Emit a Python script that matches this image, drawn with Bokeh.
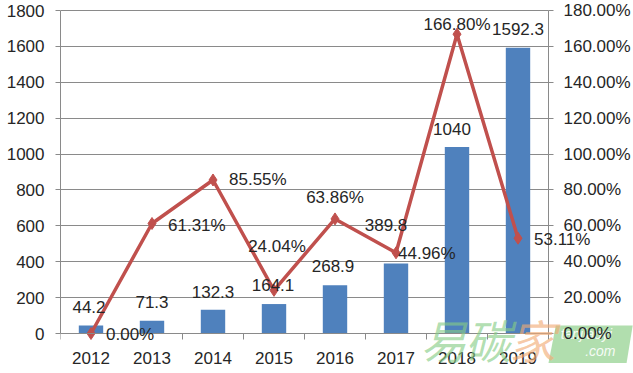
from bokeh.plotting import figure
from bokeh.models import (Range1d, LinearAxis, FixedTicker, NumeralTickFormatter,
                          ColumnDataSource, LabelSet, Label)
from bokeh.core.properties import value
from bokeh.embed import file_html
from bokeh.resources import INLINE
import numpy as np

# ---- data ----
years = ["2012", "2013", "2014", "2015", "2016", "2017", "2018", "2019"]
volume = [44.2, 71.3, 132.3, 164.1, 268.9, 389.8, 1040, 1592.3]
volume_text = ["44.2", "71.3", "132.3", "164.1", "268.9", "389.8", "1040", "1592.3"]
growth_pct = [0.00, 61.31, 85.55, 24.04, 63.86, 44.96, 166.80, 53.11]
left_ticks = [0, 200, 400, 600, 800, 1000, 1200, 1400, 1600, 1800]
right_ticks_pct = [0, 20, 40, 60, 80, 100, 120, 140, 160, 180]

# ---- label placement (pixels, positive = right / up) ----
vol_dx = [-2, 0, 0, -1, -2, -10, -5, 0]
vol_dy = [19, 19, 18, 19, 19, 39, 18, 19]
gr_dx = [15, 16, 16, 3, 0, 2, 0, 16]
gr_dy = [-1, -2, 0, 44, 21, -1, 10, -1]
gr_align = ["left", "left", "left", "center", "center", "left", "center", "left"]

FONT = "Liberation Sans"
FS = "17px"
TXT = "#262626"
GRID = "#8a8a8a"
BAR = "#4F81BD"
RED = "#C0504D"

W, H = 633, 373
LEFT, TOP, PLOT_RIGHT, PLOT_BOTTOM = 60, 10, 548, 333

n = len(years)
xs = (np.arange(n) + 0.5).tolist()
growth = [g / 100.0 for g in growth_pct]
ymax = left_ticks[-1]
rmax = right_ticks_pct[-1] / 100.0

px_x = (PLOT_RIGHT - LEFT) / n
px_y = (PLOT_BOTTOM - TOP) / ymax
x_end = n + (W - PLOT_RIGHT) / px_x
y_start = -(H - PLOT_BOTTOM) / px_y
y_end = ymax + TOP / px_y
r_scale = rmax / ymax

p = figure(width=W, height=H, x_range=Range1d(0, x_end), y_range=Range1d(y_start, y_end),
           output_backend="svg", toolbar_location=None,
           min_border_left=LEFT, min_border_right=0, min_border_top=0, min_border_bottom=0)
p.outline_line_color = None
p.background_fill_color = "white"
p.border_fill_color = "white"

p.extra_y_ranges = {"rate": Range1d(y_start * r_scale, y_end * r_scale)}

# bottom axis, fixed at y = 0
p.xaxis.fixed_location = 0
p.xaxis.bounds = (0, n)
p.xaxis.ticker = FixedTicker(ticks=xs, minor_ticks=list(range(n + 1)))
p.xaxis.major_label_overrides = {x: y for x, y in zip(xs, years)}
p.xaxis.major_tick_out = 0
p.xaxis.major_tick_in = 0
p.xaxis.minor_tick_out = 6
p.xaxis.minor_tick_in = 0
p.xaxis.major_label_standoff = 12

# left axis
p.yaxis.bounds = (0, ymax)
p.yaxis.ticker = FixedTicker(ticks=left_ticks)
p.yaxis.major_tick_out = 5
p.yaxis.major_tick_in = 0
p.yaxis.minor_tick_out = 0
p.yaxis.minor_tick_in = 0
p.yaxis.major_label_standoff = 11

# right axis, fixed at the end of the categories
rax = LinearAxis(y_range_name="rate",
                 ticker=FixedTicker(ticks=[v / 100.0 for v in right_ticks_pct]),
                 formatter=NumeralTickFormatter(format="0.00%"))
rax.fixed_location = n
rax.bounds = (0, rmax)
rax.major_tick_out = 5
rax.major_tick_in = 0
rax.minor_tick_out = 0
rax.minor_tick_in = 0
rax.major_label_standoff = 10
p.add_layout(rax, "right")

for ax in [p.xaxis[0], p.yaxis[0], rax]:
    ax.axis_line_color = GRID
    ax.major_tick_line_color = GRID
    ax.minor_tick_line_color = GRID
    ax.major_label_text_font = FONT
    ax.major_label_text_font_size = FS
    ax.major_label_text_color = TXT

p.xgrid.visible = False
grid = p.ygrid[0]
if "cross_bounds" in grid.properties():
    grid.ticker = FixedTicker(ticks=left_ticks)
    grid.cross_bounds = (0, n)
    grid.grid_line_color = GRID
    grid.grid_line_width = 1
else:
    grid.visible = False
    p.segment(x0=[0] * len(left_ticks), x1=[n] * len(left_ticks), y0=left_ticks,
              y1=left_ticks, line_color=GRID, line_width=1, level="underlay")

src = ColumnDataSource(dict(x=xs, vol=volume, vtxt=volume_text, g=growth,
                            gtxt=["%.2f%%" % v for v in growth_pct],
                            vdx=vol_dx, vdy=vol_dy, gdx=gr_dx, gdy=gr_dy, galign=gr_align))

p.vbar(x="x", top="vol", width=0.4, fill_color=BAR, line_color=None, source=src)
p.line(x="x", y="g", y_range_name="rate", line_color=RED, line_width=3.5, source=src)
p.scatter(x="x", y="g", y_range_name="rate", marker="diamond", size=12,
          fill_color=RED, line_color=RED, source=src)

# watermark (drawn beneath the data labels)
wm_chars = ["易", "碳", "家"]
wm_colors = ["#86cc86", "#86cc86", "#f2ab74"]
wm_x = [5.9, 6.63, 7.36]
for ch, col, wx in zip(wm_chars, wm_colors, wm_x):
    p.add_layout(Label(x=wx, y=-28, text=ch, text_align="left", text_baseline="middle",
                       text_font="Noto Sans CJK SC", text_font_size="46px",
                       text_font_style="italic", text_color=col, text_alpha=0.65))
box_x = [8.12, 9.38, 9.28, 8.0]
box_y = [45, 45, -165, -165]
p.patch(x=box_x, y=box_y, fill_color="#a3d8a0", fill_alpha=0.85, line_color=None,
        level="underlay")
p.add_layout(Label(x=8.62, y=-5, text="tanjiaoyi", text_align="center",
                   text_baseline="middle", text_font=FONT, text_font_size="14px",
                   text_font_style="italic", text_color="white", text_alpha=0.9,
                   level="underlay"))
p.add_layout(Label(x=8.85, y=-95, text=".com", text_align="center",
                   text_baseline="middle", text_font=FONT, text_font_size="14px",
                   text_font_style="italic", text_color="white", text_alpha=0.9,
                   level="underlay"))

p.add_layout(LabelSet(x="x", y="vol", text="vtxt", x_offset="vdx", y_offset="vdy",
                      text_align="center", text_baseline="middle",
                      text_font=value(FONT), text_font_size=FS, text_color=TXT,
                      source=src))
p.add_layout(LabelSet(x="x", y="g", y_range_name="rate", text="gtxt",
                      x_offset="gdx", y_offset="gdy", text_align="galign",
                      text_baseline="middle", text_font=value(FONT),
                      text_font_size=FS, text_color=TXT, source=src))

open("out.html", "w").write(file_html(p, INLINE))
